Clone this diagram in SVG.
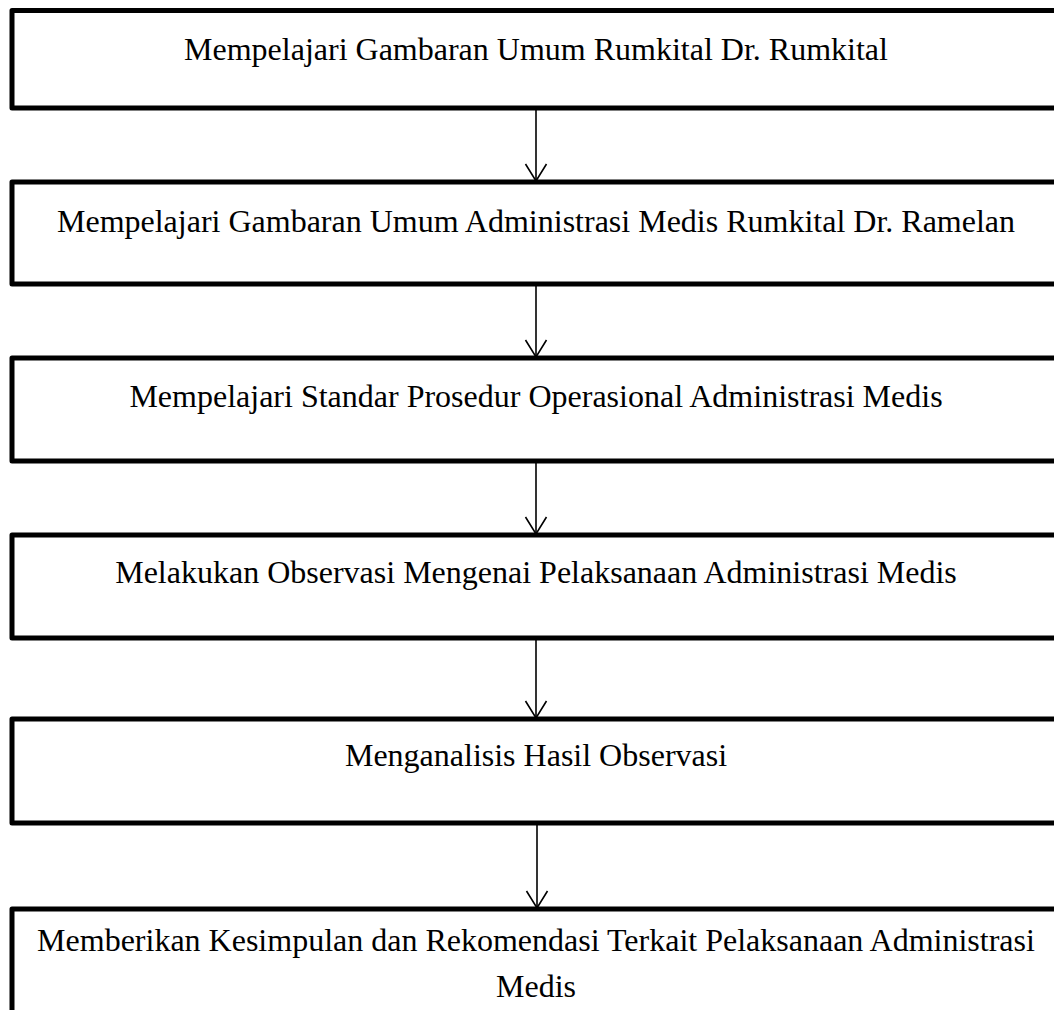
<svg xmlns="http://www.w3.org/2000/svg" width="1054" height="1010" viewBox="0 0 1054 1010">
<style>
.box{fill:#fff;stroke:#000;stroke-width:5;stroke-linejoin:round}
.t{font-family:"Liberation Serif","Times New Roman",serif;font-size:32px;fill:#000;text-anchor:middle}
.c{stroke:#000;stroke-width:1.6;fill:none}
</style>
<defs>
<marker id="ah" viewBox="0 0 21 24" refX="19" refY="12" markerWidth="21" markerHeight="24" markerUnits="userSpaceOnUse" orient="auto">
<path d="M2 1.5 L19 12 L2 22.5" fill="none" stroke="#000" stroke-width="1.6"/>
</marker>
</defs>
<rect width="1054" height="1010" fill="#fff"/>
<g id="connectors">
<line class="c" x1="536" y1="108" x2="536" y2="181" marker-end="url(#ah)"/>
<line class="c" x1="536" y1="284" x2="536" y2="357" marker-end="url(#ah)"/>
<line class="c" x1="536" y1="461" x2="536" y2="534" marker-end="url(#ah)"/>
<line class="c" x1="536" y1="638" x2="536" y2="718" marker-end="url(#ah)"/>
<line class="c" x1="537" y1="823" x2="537" y2="908" marker-end="url(#ah)"/>
</g>
<g id="n1"><rect class="box" x="12" y="10.5" width="1100" height="97.5"/><text class="t" x="536" y="60">Mempelajari Gambaran Umum Rumkital Dr. Rumkital</text></g>
<g id="n2"><rect class="box" x="12" y="182" width="1100" height="102"/><text class="t" x="536" y="232">Mempelajari Gambaran Umum Administrasi Medis Rumkital Dr. Ramelan</text></g>
<g id="n3"><rect class="box" x="12" y="358" width="1100" height="103"/><text class="t" x="536" y="407">Mempelajari Standar Prosedur Operasional Administrasi Medis</text></g>
<g id="n4"><rect class="box" x="12" y="535" width="1100" height="103"/><text class="t" x="536" y="583">Melakukan Observasi Mengenai Pelaksanaan Administrasi Medis</text></g>
<g id="n5"><rect class="box" x="12" y="719" width="1100" height="104"/><text class="t" x="536" y="766">Menganalisis Hasil Observasi</text></g>
<g id="n6"><rect class="box" x="12" y="909" width="1100" height="200"/><text class="t" x="536" y="951">Memberikan Kesimpulan dan Rekomendasi Terkait Pelaksanaan Administrasi</text><text class="t" x="536" y="997">Medis</text></g>
</svg>
